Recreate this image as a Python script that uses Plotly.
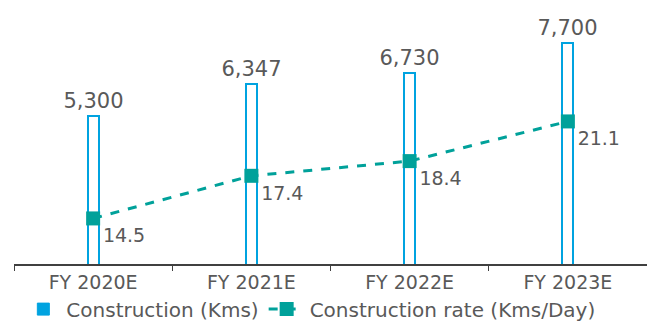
import plotly.graph_objects as go

categories = ["FY 2020E", "FY 2021E", "FY 2022E", "FY 2023E"]
construction = [5300, 6347, 6730, 7700]
rate = [14.5, 17.4, 18.4, 21.1]
construction_labels = ["5,300", "6,347", "6,730", "7,700"]
rate_labels = ["14.5", "17.4", "18.4", "21.1"]

BLUE = "#00A3E0"
TEAL = "#00A19A"
GREY = "#595959"
FONT = "DejaVu Sans"

fig = go.Figure()
fig.add_trace(go.Bar(
    x=categories, y=construction, name="Construction (Kms)",
    marker=dict(color="white", line=dict(color=BLUE, width=2)),
    width=0.07, showlegend=False,
    text=construction_labels, textposition="outside", constraintext="none",
    textfont=dict(size=21, color=GREY, family=FONT),
    cliponaxis=False,
))
# legend-only entry (solid icon like the reference legend)
fig.add_trace(go.Bar(
    x=[categories[0]], y=[None], name="Construction (Kms)",
    marker=dict(color=BLUE, line=dict(color=BLUE, width=1)),
    showlegend=True, hoverinfo="skip",
))
fig.add_trace(go.Scatter(
    x=categories, y=rate, name="Construction rate (Kms/Day)",
    yaxis="y2", mode="lines+markers+text",
    line=dict(color=TEAL, width=3, dash="dash"),
    marker=dict(symbol="square", size=14, color=TEAL),
    text=rate_labels, textposition="bottom right",
    textfont=dict(size=19, color=GREY, family=FONT),
    cliponaxis=False,
))

fig.update_layout(
    width=647, height=323,
    margin=dict(l=14, r=0, t=20, b=59, autoexpand=False),
    plot_bgcolor="white", paper_bgcolor="white",
    font=dict(family=FONT, color=GREY, size=19),
    showlegend=True,
    barmode="overlay",
    legend=dict(orientation="h", x=0.01, xanchor="left",
                y=-0.105, yanchor="top",
                font=dict(size=20, color=GREY, family=FONT),
                itemwidth=36, tracegroupgap=0),
    xaxis=dict(showline=True, linecolor="#404040", linewidth=1.5,
               ticks="outside", tickson="boundaries", ticklen=5, tickcolor="#404040",
               tickfont=dict(size=19, color=GREY, family=FONT), showgrid=False),
    yaxis=dict(visible=False, range=[397, 8477], showgrid=False),
    yaxis2=dict(visible=False, overlaying="y", range=[11.4, 28.0], showgrid=False),
    bargap=0,
)

fig.write_html("out.html")
